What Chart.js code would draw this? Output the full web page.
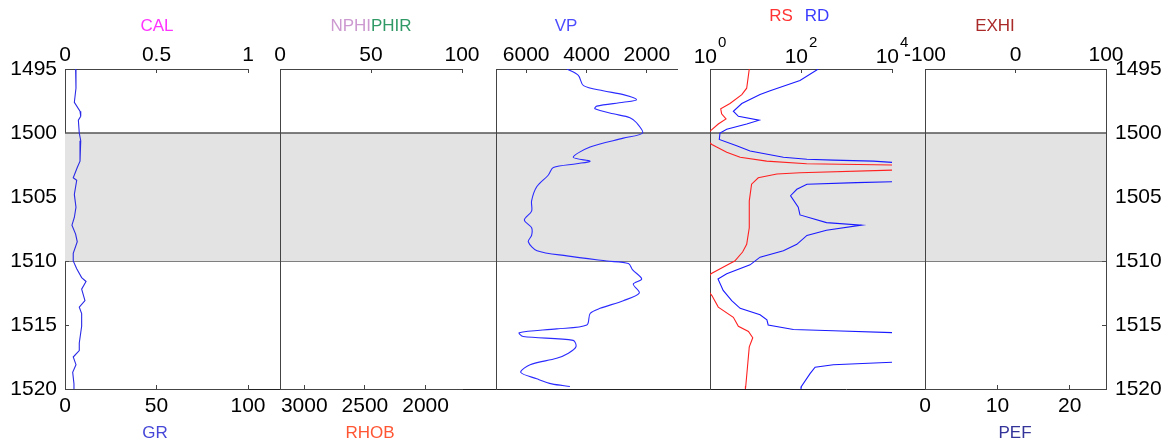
<!DOCTYPE html>
<html>
<head>
<meta charset="utf-8">
<title>Well log panel 1495-1520</title>
<script src="https://cdn.jsdelivr.net/npm/chart.js@4.4.1/dist/chart.umd.min.js"></script>
<style>
  html, body { margin: 0; padding: 0; background: #fff; }
  #panel { position: relative; width: 1171px; height: 443px; overflow: hidden;
           font-family: "Liberation Sans", Arial, Helvetica, sans-serif; }
  #panel canvas { position: absolute; left: 0; top: 0; }
  .ttl { position: absolute; font-size: 17px; line-height: 1; white-space: nowrap;
         transform: translate(-50%, -50%); }
</style>
</head>
<body>
<div id="panel">
  <canvas id="depthFrame" width="1171" height="443"></canvas>
  <canvas id="trackCal" width="1171" height="443"></canvas>
  <canvas id="trackPor" width="1171" height="443"></canvas>
  <canvas id="trackVp" width="1171" height="443"></canvas>
  <canvas id="trackRes" width="1171" height="443"></canvas>
  <canvas id="trackExhi" width="1171" height="443"></canvas>

  <div class="ttl" style="left:157px;top:24.5px;color:#ff33ff">CAL</div>
  <div class="ttl" style="left:371px;top:25px"><span style="color:#cc99d0">NPHI</span><span style="color:#2f9a66">PHIR</span></div>
  <div class="ttl" style="left:566px;top:25px;color:#4d4dff">VP</div>
  <div class="ttl" style="left:781px;top:15px;color:#ff3333">RS</div>
  <div class="ttl" style="left:817px;top:15px;color:#3c3cff">RD</div>
  <div class="ttl" style="left:995px;top:25px;color:#aa2a2a">EXHI</div>

  <div class="ttl" style="left:155px;top:432px;color:#4646d8">GR</div>
  <div class="ttl" style="left:370px;top:432px;color:#ff5533">RHOB</div>
  <div class="ttl" style="left:1015px;top:432px;color:#333399">PEF</div>
</div>

<script>
// ---- depth axis ----
const depthRange = [1495, 1520];
const depthTicks = [1495, 1500, 1505, 1510, 1515, 1520];
const zoneDepths = [1500, 1510];

// ---- curve samples (depth in m) ----
const grDepth = [1495.0, 1496.5, 1497.6, 1498.3, 1498.7, 1499.0, 1500.0, 1500.6, 1502.2, 1502.7,
                 1503.5, 1503.7, 1504.8, 1505.8, 1506.6, 1507.2, 1507.9, 1508.5, 1509.4, 1510.0,
                 1510.6, 1511.3, 1511.6, 1512.2, 1513.1, 1513.6, 1514.1, 1515.1, 1516.4, 1517.0,
                 1517.5, 1518.1, 1518.7, 1519.6, 1520.0];
const grValues = [5.8, 6.0, 5.1, 8.2, 8.6, 7.3, 7.8, 8.6, 8.2, 6.7,
                  4.5, 6.4, 5.1, 6.0, 5.1, 3.8, 5.8, 6.7, 4.5, 4.5,
                  6.4, 9.1, 11.5, 9.1, 10.9, 7.8, 9.1, 9.1, 7.8, 7.8,
                  4.5, 6.0, 4.2, 4.9, 4.9];

const vpDepth = [1495.0, 1495.5, 1496.3, 1496.7, 1497.0, 1497.4, 1497.6, 1497.9, 1498.1, 1498.5,
                 1498.8, 1499.2, 1500.0, 1500.4, 1501.1, 1501.9, 1502.2, 1502.4, 1502.7, 1503.3,
                 1504.2, 1505.3, 1506.1, 1506.8, 1507.4, 1508.0, 1508.5, 1509.2, 1509.6, 1510.0,
                 1510.2, 1510.7, 1511.4, 1511.8, 1512.5, 1513.1, 1513.7, 1514.1, 1515.0, 1515.3,
                 1515.6, 1515.9, 1516.2, 1516.7, 1517.2, 1517.6, 1518.1, 1518.7, 1519.2, 1519.6,
                 1519.8];
const vpValues = [4650, 4270, 4100, 3450, 2780, 2340, 2780, 3660, 3720, 3110,
                  2560, 2340, 2140, 2780, 3880, 4440, 3880, 4330, 5100, 5270,
                  5650, 5820, 5820, 6060, 5820, 5820, 5930, 5640, 4650, 3330,
                  2610, 2470, 2170, 2450, 2250, 2780, 3550, 3880, 3990, 4990,
                  6230, 6100, 4440, 4350, 4600, 4990, 5870, 6180, 5650, 5150,
                  4550];

const rsDepth = [1495.0, 1496.5, 1497.0, 1497.7, 1498.1, 1498.5, 1498.9, 1499.3, 1499.8, 1500.3,
                 1500.9, 1501.1, 1501.5, 1501.9, 1502.2, 1502.4, 1502.5, 1502.7, 1502.9, 1503.1,
                 1503.2, 1503.5, 1504.0, 1505.3, 1507.4, 1508.7, 1509.3, 1510.0, 1510.2, 1511.0,
                 1511.8, 1512.7, 1513.6, 1514.4, 1515.1, 1515.5, 1516.0, 1516.7, 1519.8, 1520.0];
const rsValues = [7.3, 6.4, 5.0, 2.75, 1.72, 1.80, 2.25, 1.52, 1.05, 0.7,
                  1.10, 1.40, 2.33, 4.6, 17.6, 133, 10500, 1e7, 10000, 95,
                  29.5, 11.5, 8.2, 7.3, 7.3, 6.4, 5.2, 3.5, 2.75, 1.05,
                  0.7, 1.1, 1.52, 3.26, 4.2, 7.0, 8.7, 7.3, 6.1, 6.0];

const rdDepth = [1495.0, 1495.9, 1496.7, 1497.0, 1497.7, 1498.3, 1498.7, 1499.0, 1499.3, 1499.7,
                 1500.0, 1500.5, 1501.0, 1501.4, 1501.9, 1502.05, 1502.12, 1502.2, 1502.3, 1503.0,
                 1503.8, 1503.88, 1504.0, 1504.4, 1504.9, 1505.8, 1506.4, 1507.0, 1507.2, 1507.6,
                 1508.0, 1508.7, 1509.2, 1509.7, 1510.3, 1511.0, 1511.4, 1512.3, 1513.1, 1513.7,
                 1514.2, 1514.6, 1515.0, 1515.35, 1515.45, 1515.6, 1516.7, 1517.9, 1518.1, 1518.3,
                 1518.8, 1519.8, 1520.0];
const rdValues = [240, 95, 21, 12.6, 5.0, 3.26, 4.2, 12.0, 6.4, 2.33,
                  1.66, 1.6, 3.85, 7.6, 41, 135, 513, 3900, 10700, 1e7,
                  10700, 1660, 135, 81, 59, 87, 95, 363, 2140, 363,
                  135, 81, 41, 12.6, 7.6, 2.33, 1.5, 1.95, 3.0, 4.6,
                  12.6, 17.8, 19, 68, 513, 10700, 1e7, 10700, 513, 204,
                  158, 102, 100];

// ---- track scale ranges and tick labels ----
const calRange = [0, 1],          calTicks = [0, 0.5, 1];
const grRange = [0, 100],         grTicks = [0, 50, 100];
const nphiRange = [0, 100],       nphiTicks = [0, 50, 100];
const rhobRange = [1700, 3200],   rhobTicks = [3000, 2500, 2000];
const vpRange = [1000, 7000],     vpTicks = [6000, 4000, 2000];
const resRange = [1, 10000],      resTicks = [1, 100, 10000];
const exhiRange = [-100, 100],    exhiTicks = [-100, 0, 100];
const pefRange = [0, 25],         pefTicks = [0, 10, 20];

// ---- page layout (pixels) ----
const W = 1171, H = 443;
const PLOT_TOP = 69, PLOT_BOTTOM = 389;
const FRAME_RIGHT = 1106;
const FONT = '"Liberation Sans", Arial, Helvetica, sans-serif';
const AXIS_GREY = '#444';
const span = {
  cal:  [65, 248],
  por:  [280, 462],
  vp:   [496, 677],
  res:  [710, 892],
  exhi: [925, 1106]
};

const toPoints = (depths, values) => depths.map((d, i) => ({ x: values[i], y: d }));
const fixedTicks = list => scale => { scale.ticks = list.map(v => ({ value: v })); };

function xAxis(position, range, ticks, extra = {}) {
  const top = position === 'top';
  return Object.assign({
    type: 'linear',
    axis: 'x',
    position,
    min: range[0],
    max: range[1],
    afterBuildTicks: fixedTicks(ticks),
    afterFit: s => { s.height = top ? PLOT_TOP : H - PLOT_BOTTOM; },
    ticks: {
      autoSkip: false, maxRotation: 0, minRotation: 0,
      padding: top ? 5 : 9,
      color: '#000',
      font: { family: FONT, size: 21 },
      callback: v => String(v)
    },
    grid: { display: true, drawOnChartArea: false, drawTicks: true, tickLength: -4,
            color: AXIS_GREY, tickColor: AXIS_GREY, lineWidth: 1 },
    border: { display: true, color: AXIS_GREY, width: 1 }
  }, extra);
}

function depthAxis(showBorder) {
  return {
    type: 'linear', axis: 'y', position: 'left',
    min: depthRange[0], max: depthRange[1], reverse: true,
    afterFit: s => { s.width = 0; },
    ticks: { display: false },
    grid: { display: false },
    border: { display: showBorder, color: AXIS_GREY, width: 1 }
  };
}

function curve(points, color, xAxisID, tension = 0) {
  return {
    data: points, xAxisID, yAxisID: 'y',
    borderColor: color, borderWidth: 1.1, pointRadius: 0,
    fill: false, tension, showLine: true
  };
}

const baseOptions = {
  responsive: false,
  animation: false,
  devicePixelRatio: 1,
  events: [],
  plugins: { legend: { display: false }, tooltip: { enabled: false }, title: { display: false } }
};

function makeTrack(id, [left, right], scales, datasets, plugins = []) {
  const hasBottom = Object.values(scales).some(s => s.position === 'bottom');
  return new Chart(document.getElementById(id), {
    type: 'line',
    data: { datasets },
    options: Object.assign({}, baseOptions, {
      layout: { padding: { left, right: W - right, top: 0, bottom: hasBottom ? 0 : H - PLOT_BOTTOM } },
      scales
    }),
    plugins
  });
}

// Log-axis labels written as 10 with a raised exponent
const powerOfTenLabels = {
  id: 'powerOfTenLabels',
  afterDraw(chart) {
    const scale = chart.scales.x;
    const ctx = chart.ctx;
    ctx.save();
    ctx.fillStyle = '#000';
    ctx.textBaseline = 'alphabetic';
    ctx.textAlign = 'left';
    scale.ticks.forEach(t => {
      const px = scale.getPixelForValue(t.value);
      const exp = String(Math.round(Math.log10(t.value)));
      ctx.font = '21px ' + FONT;
      const wBase = ctx.measureText('10').width;
      ctx.font = '15px ' + FONT;
      const wExp = ctx.measureText(exp).width;
      const x0 = px - (wBase + wExp + 1) / 2;
      ctx.font = '21px ' + FONT;
      ctx.fillText('10', x0, scale.bottom - 6);
      ctx.font = '15px ' + FONT;
      ctx.fillText(exp, x0 + wBase + 1, scale.bottom - 22);
    });
    ctx.restore();
  }
};

// ---- depth frame: shaded zone, zone boundaries and depth labels on both sides ----
function depthLabelAxis(position, padding) {
  return {
    type: 'linear', axis: 'y', position,
    min: depthRange[0], max: depthRange[1], reverse: true,
    afterBuildTicks: fixedTicks(depthTicks),
    afterFit: s => { s.width = position === 'left' ? span.cal[0] : W - FRAME_RIGHT; },
    ticks: { padding, color: '#000', font: { family: FONT, size: 21 }, callback: v => String(v) },
    grid: { display: true, drawOnChartArea: false, drawTicks: true, tickLength: -4,
            color: AXIS_GREY, tickColor: AXIS_GREY },
    border: { display: true, color: AXIS_GREY, width: 1 }
  };
}

new Chart(document.getElementById('depthFrame'), {
  type: 'line',
  data: {
    datasets: [
      { data: [{ x: 0, y: zoneDepths[0] }, { x: 1, y: zoneDepths[0] }], xAxisID: 'x', yAxisID: 'y',
        borderColor: '#555', borderWidth: 1.5, pointRadius: 0, fill: '+1', backgroundColor: '#e3e3e3' },
      { data: [{ x: 0, y: zoneDepths[1] }, { x: 1, y: zoneDepths[1] }], xAxisID: 'x', yAxisID: 'y',
        borderColor: '#555', borderWidth: 1.5, pointRadius: 0, fill: false }
    ]
  },
  options: Object.assign({}, baseOptions, {
    layout: { padding: { top: PLOT_TOP, left: 0, right: 0, bottom: 0 } },
    scales: {
      x: { type: 'linear', axis: 'x', position: 'bottom', min: 0, max: 1,
           afterFit: s => { s.height = H - PLOT_BOTTOM; },
           ticks: { display: false }, grid: { display: false },
           border: { display: true, color: '#222', width: 1 } },
      y: depthLabelAxis('left', 12),
      y2: depthLabelAxis('right', 13)
    }
  })
});

// ---- track 1: CAL (top) / GR (bottom) ----
makeTrack('trackCal', span.cal, {
  x: xAxis('top', calRange, calTicks),
  xGr: xAxis('bottom', grRange, grTicks),
  y: depthAxis(false)
}, [
  curve(toPoints(grDepth, grValues), '#2a2ae6', 'xGr')
]);

// ---- track 2: NPHI / PHIR (top) / RHOB (bottom) ----
makeTrack('trackPor', span.por, {
  x: xAxis('top', nphiRange, nphiTicks),
  xRhob: xAxis('bottom', rhobRange, rhobTicks, { reverse: true }),
  y: depthAxis(true)
}, []);

// ---- track 3: VP ----
makeTrack('trackVp', span.vp, {
  x: xAxis('top', vpRange, vpTicks, { reverse: true }),
  y: depthAxis(true)
}, [
  curve(toPoints(vpDepth, vpValues), '#2b2bff', 'x', 0.3)
]);

// ---- track 4: RS / RD on a log scale ----
const resAxis = xAxis('top', resRange, resTicks, { type: 'logarithmic' });
resAxis.ticks.callback = () => '';
makeTrack('trackRes', span.res, {
  x: resAxis,
  y: depthAxis(true)
}, [
  curve(toPoints(rsDepth, rsValues), '#ff2020', 'x'),
  curve(toPoints(rdDepth, rdValues), '#1a1aff', 'x')
], [powerOfTenLabels]);

// ---- track 5: EXHI (top) / PEF (bottom) ----
makeTrack('trackExhi', span.exhi, {
  x: xAxis('top', exhiRange, exhiTicks),
  xPef: xAxis('bottom', pefRange, pefTicks),
  y: depthAxis(true)
}, []);
</script>
</body>
</html>
